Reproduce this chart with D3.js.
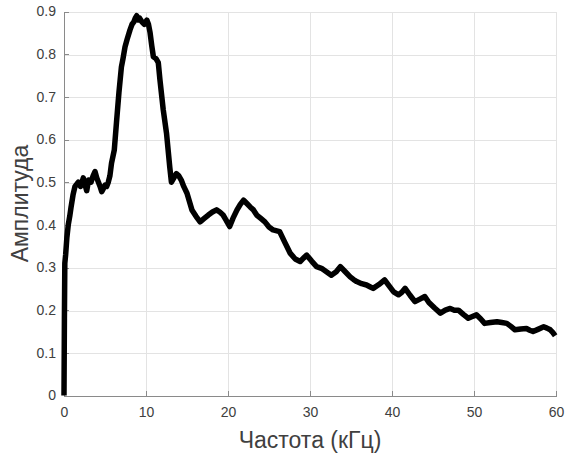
<!DOCTYPE html>
<html lang="ru">
<head>
<meta charset="UTF-8">
<title>Амплитуда</title>
<script src="https://d3js.org/d3.v7.min.js"></script>
<style>
    body { margin: 0; background: #fff; }
    text { font-family: Arial, "Liberation Sans", sans-serif; }
    .grid line { stroke: #e3e3e3; stroke-width: 1; shape-rendering: crispEdges; }
    .axis path, .axis line { stroke: #8a8a8a; stroke-width: 1; shape-rendering: crispEdges; }
    .axis text { fill: #404040; font-size: 14px; }
</style>
</head>
<body>
<div id="chart"></div>
<script>
// frequency (kHz) and amplitude
var freq = [0, 0.05, 0.1, 0.2, 0.35, 0.52, 0.7, 0.85, 1.1, 1.34, 1.55, 1.75, 2.0, 2.2, 2.35, 2.55, 2.77, 3.0, 3.3, 3.55, 3.78, 4.0, 4.2, 4.4, 4.6, 4.8, 5.0, 5.2, 5.4, 5.6, 5.8, 6.13, 6.4, 6.7, 7.0, 7.2, 7.44, 7.7, 8.05, 8.3, 8.5, 8.7, 8.87, 9.0, 9.2, 9.5, 9.8, 10.1, 10.3, 10.5, 10.7, 10.9, 11.2, 11.5, 11.7, 12.1, 12.5, 12.9, 13.1, 13.4, 13.7, 14.0, 14.3, 14.6, 15.0, 15.6, 16.1, 16.6, 17.1, 17.6, 18.1, 18.6, 19.0, 19.4, 19.8, 20.2, 20.6, 21.1, 21.5, 21.9, 22.3, 22.7, 23.1, 23.5, 24.0, 24.5, 25.0, 25.5, 26.3, 26.9, 27.6, 28.2, 28.8, 29.2, 29.6, 30.2, 30.8, 31.4, 32.0, 32.6, 33.2, 33.7, 34.3, 34.9, 35.3, 35.7, 36.3, 36.9, 37.3, 37.7, 38.4, 39.1, 39.6, 40.2, 40.8, 41.2, 41.6, 42.2, 42.8, 43.4, 44.0, 44.5, 45.2, 45.9, 46.5, 47.1, 47.6, 48.1, 48.7, 49.3, 49.8, 50.3, 50.8, 51.3, 52.0, 52.8, 53.4, 54.0, 54.5, 55.0, 55.7, 56.4, 56.8, 57.2, 57.8, 58.5, 58.9, 59.3, 59.6, 59.9];
var amp = [0, 0.18, 0.31, 0.33, 0.37, 0.40, 0.42, 0.44, 0.47, 0.49, 0.495, 0.50, 0.49, 0.50, 0.51, 0.495, 0.48, 0.505, 0.50, 0.515, 0.525, 0.51, 0.50, 0.49, 0.478, 0.485, 0.493, 0.49, 0.50, 0.515, 0.545, 0.575, 0.64, 0.71, 0.77, 0.79, 0.817, 0.835, 0.857, 0.87, 0.875, 0.885, 0.89, 0.88, 0.885, 0.876, 0.87, 0.88, 0.87, 0.85, 0.82, 0.794, 0.79, 0.78, 0.74, 0.67, 0.615, 0.535, 0.50, 0.51, 0.52, 0.515, 0.505, 0.49, 0.474, 0.435, 0.42, 0.407, 0.415, 0.423, 0.43, 0.435, 0.43, 0.423, 0.41, 0.396, 0.415, 0.435, 0.448, 0.458, 0.45, 0.442, 0.435, 0.423, 0.415, 0.407, 0.395, 0.388, 0.384, 0.36, 0.333, 0.32, 0.314, 0.322, 0.329, 0.315, 0.302, 0.298, 0.29, 0.282, 0.29, 0.302, 0.29, 0.278, 0.272, 0.267, 0.262, 0.259, 0.255, 0.251, 0.26, 0.271, 0.258, 0.243, 0.236, 0.242, 0.251, 0.235, 0.22, 0.226, 0.232, 0.218, 0.205, 0.193, 0.2, 0.204, 0.2, 0.2, 0.19, 0.181, 0.185, 0.189, 0.18, 0.169, 0.171, 0.173, 0.171, 0.169, 0.162, 0.154, 0.156, 0.157, 0.153, 0.15, 0.155, 0.161, 0.158, 0.154, 0.148, 0.14];

var xTicks = [0, 10, 20, 30, 40, 50, 60];
var yTicks = [0, 0.1, 0.2, 0.3, 0.4, 0.5, 0.6, 0.7, 0.8, 0.9];

var W = 565, H = 454;
var margin = { top: 11.5, right: 9, bottom: 58.5, left: 64 };
var width = W - margin.left - margin.right;
var height = H - margin.top - margin.bottom;

var svg = d3.select("#chart").append("svg")
    .attr("width", W)
    .attr("height", H);

var g = svg.append("g")
    .attr("transform", "translate(" + margin.left + "," + margin.top + ")");

var x = d3.scaleLinear().domain([0, 60]).range([0, width]);
var y = d3.scaleLinear().domain([0, 0.9]).range([height, 0]);

// grid
g.append("g").attr("class", "grid")
    .selectAll("line.v").data(xTicks.slice(1)).enter().append("line")
    .attr("x1", function (d) { return Math.round(x(d)) + 0.5; })
    .attr("x2", function (d) { return Math.round(x(d)) + 0.5; })
    .attr("y1", 0).attr("y2", height);
g.select(".grid")
    .selectAll("line.h").data(yTicks.slice(1)).enter().append("line")
    .attr("y1", function (d) { return Math.round(y(d)) + 0.5; })
    .attr("y2", function (d) { return Math.round(y(d)) + 0.5; })
    .attr("x1", 0).attr("x2", width);

// axes, ticks pointing inward
var xAxis = d3.axisBottom(x).tickValues(xTicks).tickSizeInner(-5).tickSizeOuter(0).tickPadding(12);
var yAxis = d3.axisLeft(y).tickValues(yTicks).tickSizeInner(-5).tickSizeOuter(0).tickPadding(8)
    .tickFormat(function (d) { return d === 0 ? "0" : d3.format(".1f")(d); });

g.append("g").attr("class", "x axis")
    .attr("transform", "translate(0," + height + ")")
    .call(xAxis);

g.append("g").attr("class", "y axis")
    .call(yAxis);

// signal
var line = d3.line()
    .x(function (d) { return x(d[0]); })
    .y(function (d) { return y(d[1]); });

g.append("path")
    .datum(d3.zip(freq, amp))
    .attr("d", line)
    .attr("fill", "none")
    .attr("stroke", "#000")
    .attr("stroke-width", 5.5)
    .attr("stroke-linejoin", "round")
    .attr("stroke-linecap", "butt");

// axis titles
svg.append("text")
    .attr("x", margin.left + width / 2)
    .attr("y", 448)
    .attr("text-anchor", "middle")
    .attr("fill", "#404040")
    .style("font-size", "23px")
    .text("Частота (кГц)");

svg.append("text")
    .attr("transform", "translate(28," + (margin.top + height / 2) + ") rotate(-90)")
    .attr("text-anchor", "middle")
    .attr("fill", "#404040")
    .style("font-size", "23px")
    .text("Амплитуда");
</script>
</body>
</html>
